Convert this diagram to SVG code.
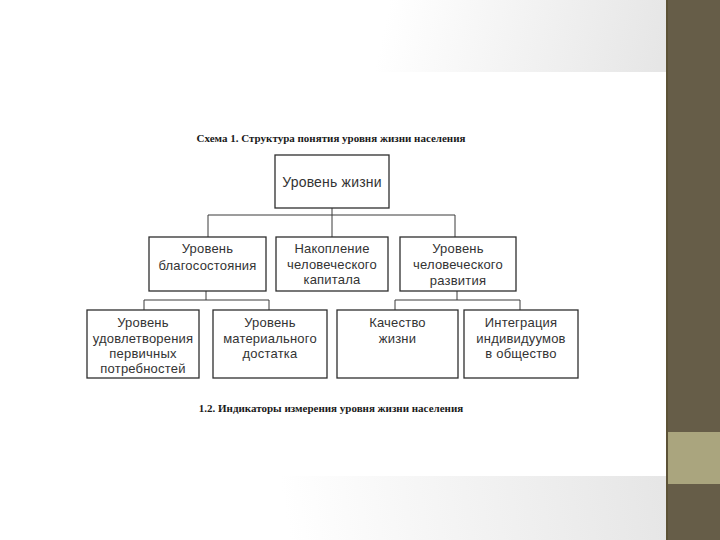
<svg xmlns="http://www.w3.org/2000/svg" width="720" height="540" viewBox="0 0 720 540">
<defs>
<linearGradient id="gTop" gradientUnits="userSpaceOnUse" x1="390" y1="0" x2="660" y2="60">
<stop offset="0" stop-color="#ffffff"/>
<stop offset="1" stop-color="#e6e6e6"/>
</linearGradient>
<linearGradient id="gBot" gradientUnits="userSpaceOnUse" x1="290" y1="540" x2="660" y2="480">
<stop offset="0" stop-color="#ffffff"/>
<stop offset="1" stop-color="#e6e6e6"/>
</linearGradient>
<style>
.box{fill:#ffffff;stroke:#2e2e2e;stroke-width:1.3}
.lbl{font-family:"Liberation Sans",Arial,sans-serif;font-size:13px;fill:#333333;text-anchor:middle;letter-spacing:0.2px}
.big{font-size:14px}
.ttl{font-family:"Liberation Serif","Times New Roman",serif;font-size:11px;font-weight:bold;fill:#1a1a1a;text-anchor:middle}
.con{fill:none;stroke:#3a3a3a;stroke-width:1}
</style>
</defs>
<rect x="0" y="0" width="720" height="540" fill="#ffffff"/>
<rect x="0" y="0" width="666" height="72" fill="url(#gTop)"/>
<rect x="0" y="476" width="666" height="64" fill="url(#gBot)"/>
<rect x="666" y="0" width="54" height="540" fill="#665d48"/>
<rect x="666" y="432" width="54" height="52" fill="#aaa57e"/>
<line x1="667" y1="0" x2="667" y2="540" stroke="#5c5236" stroke-width="2"/>

<text class="ttl" x="331" y="142">Схема 1. Структура понятия уровня жизни населения</text>
<text class="ttl" x="331" y="412">1.2. Индикаторы измерения уровня жизни населения</text>

<g id="connectors">
<path class="con" d="M332 208V215M208 215H455M208 215V237M332 215V237M455 215V237"/>
<path class="con" d="M206 291V300M144 300H269M144 300V310M269 300V310"/>
<path class="con" d="M457 291V300M395 300H520M395 300V310M520 300V310"/>
</g>

<g id="n-top">
<rect class="box" x="275" y="155" width="114" height="53"/>
<text class="lbl big" x="332" y="187">Уровень жизни</text>
</g>
<g id="n-wellbeing">
<rect class="box" x="149" y="237" width="117" height="54"/>
<text class="lbl" x="207.5" y="253">Уровень</text>
<text class="lbl" x="207.5" y="270">благосостояния</text>
</g>
<g id="n-capital">
<rect class="box" x="276" y="237" width="112" height="54"/>
<text class="lbl" x="332" y="253">Накопление</text>
<text class="lbl" x="332" y="269">человеческого</text>
<text class="lbl" x="332" y="284">капитала</text>
</g>
<g id="n-development">
<rect class="box" x="400" y="237" width="116" height="54"/>
<text class="lbl" x="458" y="253">Уровень</text>
<text class="lbl" x="458" y="269">человеческого</text>
<text class="lbl" x="458" y="285">развития</text>
</g>
<g id="n-needs">
<rect class="box" x="87" y="310" width="112" height="68"/>
<text class="lbl" x="143" y="327">Уровень</text>
<text class="lbl" x="143" y="343">удовлетворения</text>
<text class="lbl" x="143" y="358">первичных</text>
<text class="lbl" x="143" y="373">потребностей</text>
</g>
<g id="n-material">
<rect class="box" x="213" y="310" width="114" height="68"/>
<text class="lbl" x="270" y="327">Уровень</text>
<text class="lbl" x="270" y="343">материального</text>
<text class="lbl" x="270" y="358">достатка</text>
</g>
<g id="n-quality">
<rect class="box" x="337" y="310" width="121" height="68"/>
<text class="lbl" x="397.5" y="327">Качество</text>
<text class="lbl" x="397.5" y="343">жизни</text>
</g>
<g id="n-integration">
<rect class="box" x="464" y="310" width="114" height="68"/>
<text class="lbl" x="521" y="327">Интеграция</text>
<text class="lbl" x="521" y="343">индивидуумов</text>
<text class="lbl" x="521" y="358">в общество</text>
</g>
</svg>
